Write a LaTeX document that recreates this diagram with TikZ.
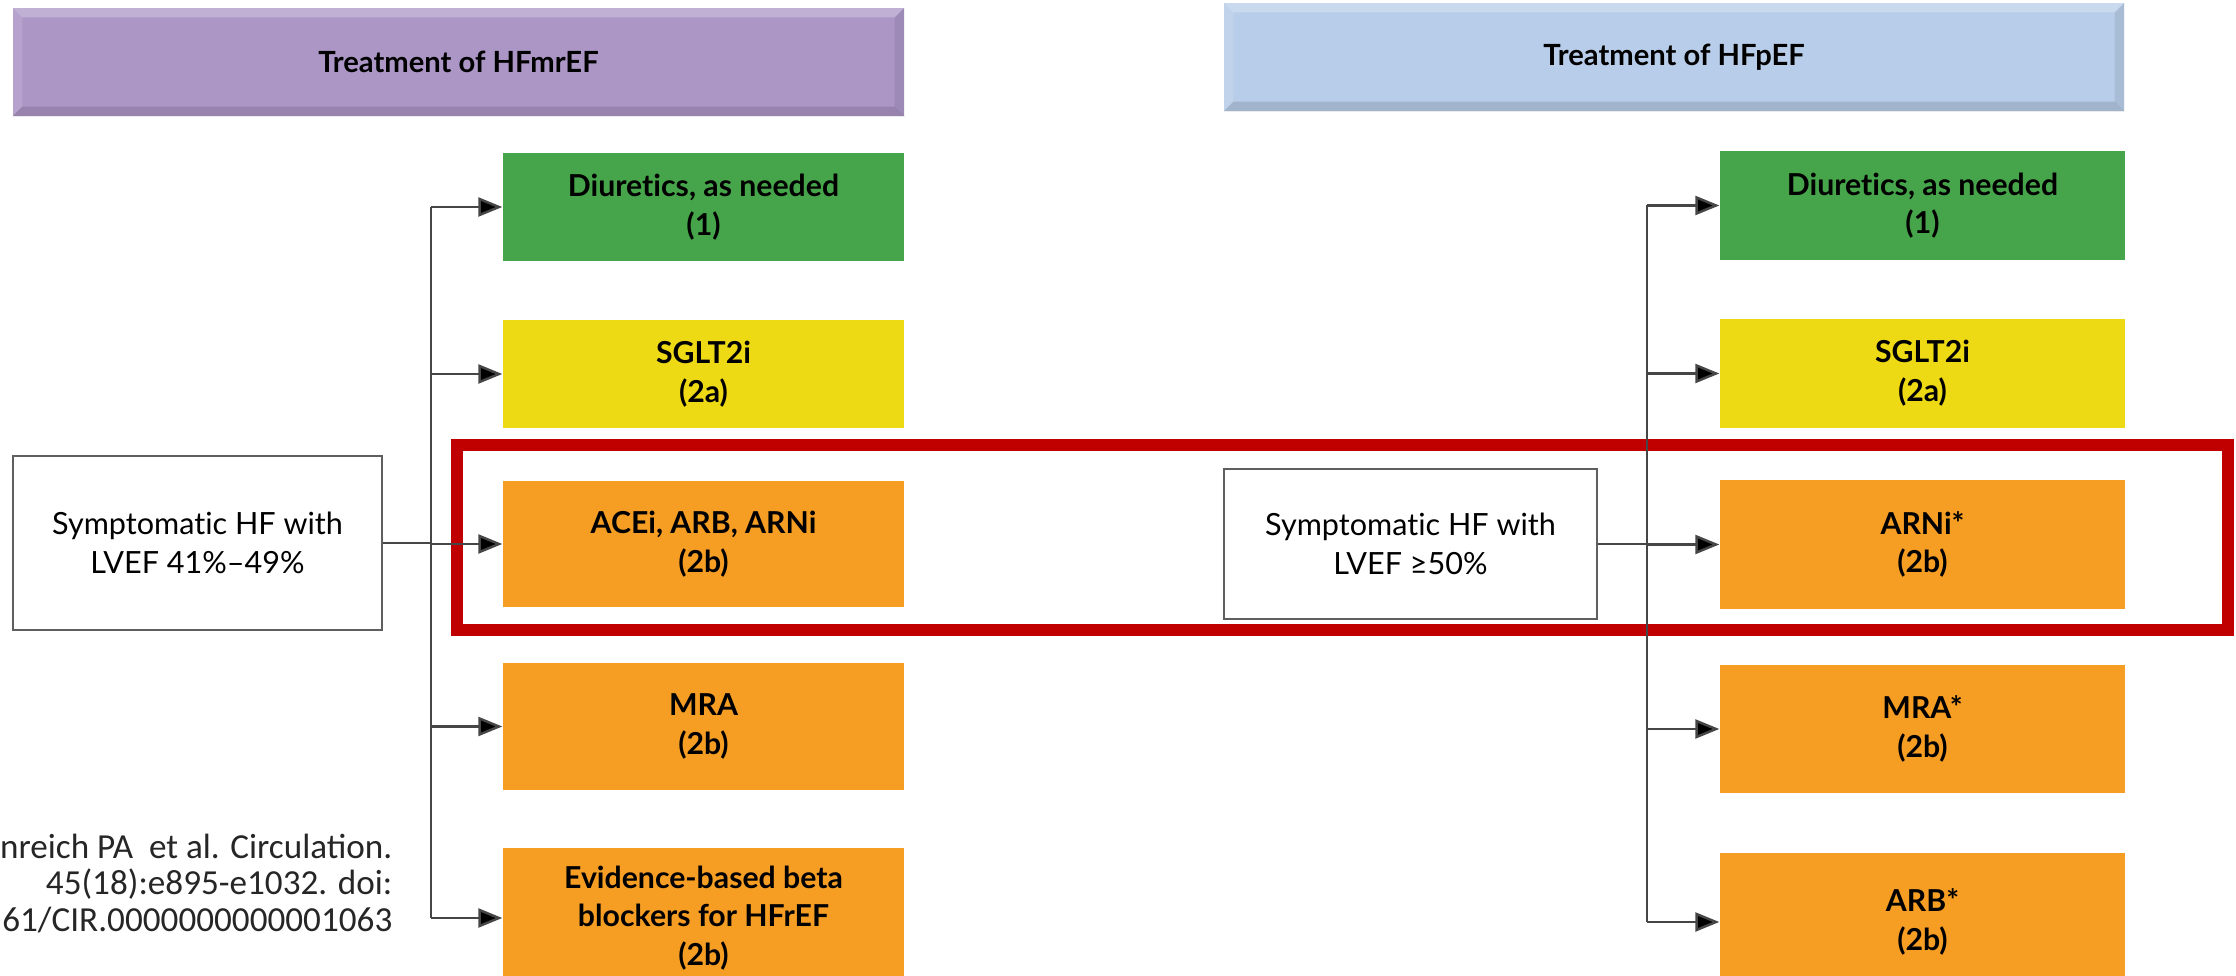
\documentclass[tikz,border=0pt]{standalone}
\usepackage{fontspec}
\newfontfamily\gotham[Ligatures=NoCommon]{Lato}
\newfontfamily\calib{Carlito}
\usepackage{xcolor}
\definecolor{lilac}{RGB}{172,150,198}
\definecolor{sky}{RGB}{184,205,233}
\definecolor{leaf}{RGB}{70,164,74}
\definecolor{lemon}{RGB}{238,218,20}
\definecolor{tangerine}{RGB}{246,157,36}
\definecolor{crimson}{RGB}{192,0,0}
\definecolor{wire}{RGB}{70,70,70}
\definecolor{frame}{RGB}{95,95,95}
\usepackage{tikz}
\usetikzlibrary{arrows.meta}

\begin{document}
\begin{tikzpicture}[
  hd/.style={rectangle,inner sep=0pt,minimum height=1.08cm,
             font=\gotham\bfseries\fontsize{8.3}{10.5}\selectfont},
  rx/.style={rectangle,inner sep=0pt,minimum width=4.01cm,align=center,
             font=\gotham\bfseries\fontsize{8.6}{11}\selectfont},
  pt/.style={rectangle,draw=frame,line width=0.7pt,fill=white,inner sep=0pt,
             align=center,font=\gotham\fontsize{8.7}{11.3}\selectfont},
  ln/.style={draw=wire,line width=0.7pt},
  ar/.style={ln,-{Triangle[length=0.24cm,width=0.19cm,fill=black]}},
  cite/.style={align=right,inner sep=0pt,text=black!85,
               font=\calib\fontsize{10}{10.4}\selectfont},
]
  \useasboundingbox (0,0) rectangle (22.36,-9.76);
  \clip (0,0) rectangle (22.36,-9.76);
  \fill[white] (0,0) rectangle (22.36,-9.76);

  \node[hd,fill=lilac,minimum width=8.91cm] (hl) at (4.585,-0.62) {Treatment of HFmrEF};
  \node[hd,fill=sky,minimum width=9.00cm] (hr) at (16.74,-0.57) {Treatment of HFpEF};
  \foreach \h in {hl,hr} {
    \fill[white,opacity=0.25] (\h.north west) -- (\h.north east)
      -- ([shift={(-0.1,-0.1)}]\h.north east) -- ([shift={(0.1,-0.1)}]\h.north west) -- cycle;
    \fill[white,opacity=0.12] (\h.north west) -- ([shift={(0.1,-0.1)}]\h.north west)
      -- ([shift={(0.1,0.1)}]\h.south west) -- (\h.south west) -- cycle;
    \fill[black,opacity=0.12] (\h.south west) -- (\h.south east)
      -- ([shift={(-0.1,0.1)}]\h.south east) -- ([shift={(0.1,0.1)}]\h.south west) -- cycle;
    \fill[black,opacity=0.08] (\h.north east) -- ([shift={(-0.1,-0.1)}]\h.north east)
      -- ([shift={(-0.1,0.1)}]\h.south east) -- (\h.south east) -- cycle;
  }

  \draw[crimson,line width=0.12cm] (4.57,-4.45) rectangle (22.28,-6.30);

  \node[rx,fill=leaf,minimum height=1.08cm] (dl) at (7.035,-2.07) {Diuretics, as needed\\(1)};
  \node[rx,fill=lemon,minimum height=1.08cm] (sl) at (7.035,-3.74) {SGLT2i\\(2a)};
  \node[rx,fill=tangerine,minimum height=1.26cm] (al) at (7.035,-5.44) {ACEi, ARB, ARNi\\(2b)};
  \node[rx,fill=tangerine,minimum height=1.27cm] (ml) at (7.035,-7.265) {MRA\\(2b)};
  \node[rx,fill=tangerine,minimum height=1.40cm] (bl) at (7.035,-9.18) {Evidence-based beta\\blockers for HFrEF\\(2b)};

  \node[rx,fill=leaf,minimum width=4.05cm,minimum height=1.09cm] (dr) at (19.225,-2.055) {Diuretics, as needed\\(1)};
  \node[rx,fill=lemon,minimum width=4.05cm,minimum height=1.09cm] (sr) at (19.225,-3.735) {SGLT2i\\(2a)};
  \node[rx,fill=tangerine,minimum width=4.05cm,minimum height=1.29cm] (ar) at (19.225,-5.445) {ARNi*\\(2b)};
  \node[rx,fill=tangerine,minimum width=4.05cm,minimum height=1.28cm] (mr) at (19.225,-7.29) {MRA*\\(2b)};
  \node[rx,fill=tangerine,minimum width=4.05cm,minimum height=1.38cm] (br) at (19.225,-9.22) {ARB*\\(2b)};

  \node[pt,minimum width=3.69cm,minimum height=1.74cm] (pl) at (1.975,-5.43) {Symptomatic HF with\\LVEF 41\%–49\%};
  \node[pt,minimum width=3.73cm,minimum height=1.50cm] (pr) at (14.105,-5.44) {Symptomatic HF with\\LVEF ≥50\%};

  \coordinate (tl) at (4.31,0);
  \coordinate (tr) at (16.47,0);
  \draw[ln] (tl |- dl.west) -- (tl |- bl.west);
  \draw[ln] (tr |- dr.west) -- (tr |- br.west);
  \draw[ln] (pl.east) -- (tl |- pl.east);
  \draw[ln] (pr.east) -- (tr |- pr.east);
  \foreach \n in {dl,sl,al,ml,bl} \draw[ar] (tl |- \n.west) -- (\n.west);
  \foreach \n in {dr,sr,ar,mr,br} \draw[ar] (tr |- \n.west) -- (\n.west);

  \node[cite,anchor=east] (ref) at (3.93,-8.835) {nreich PA\ \ et al. Circulation.\\45(18):e895-e1032. doi:\\61/CIR.0000000000001063};
\end{tikzpicture}
\end{document}
